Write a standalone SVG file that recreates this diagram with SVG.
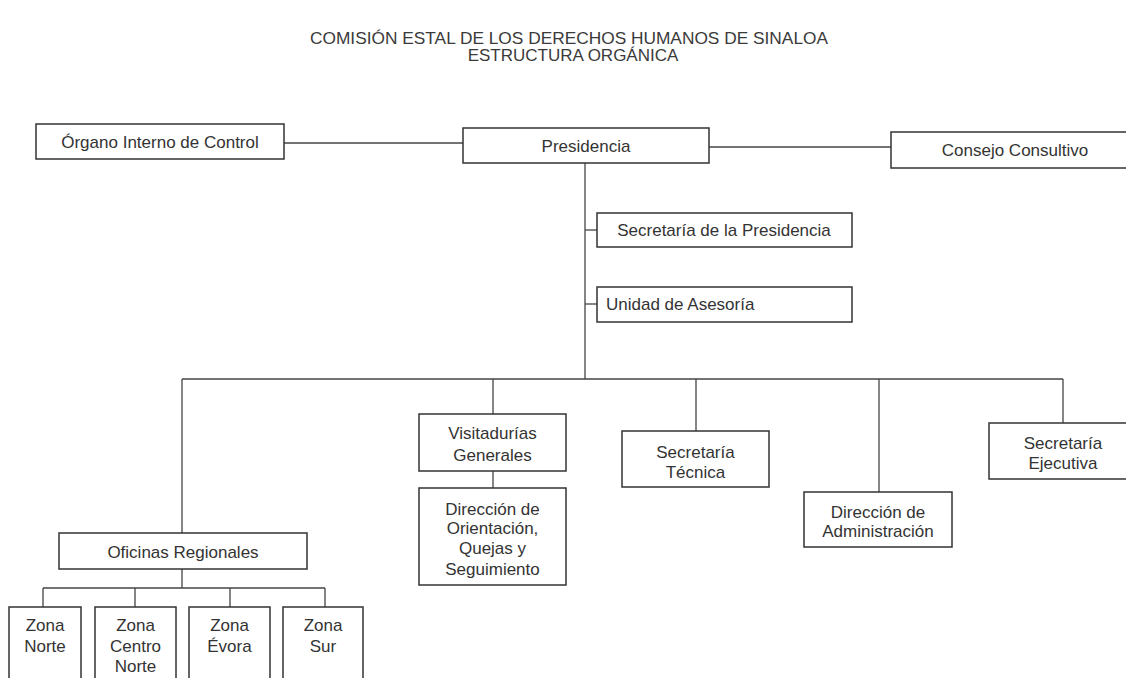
<svg xmlns="http://www.w3.org/2000/svg" width="1126" height="678" viewBox="0 0 1126 678">
<style>
  .bg { fill: #ffffff; }
  .box { fill: #ffffff; stroke: #333333; stroke-width: 1.5; }
  .lbl { font-family: "Liberation Sans", Arial, sans-serif; font-size: 17px; fill: #333333; text-anchor: middle; }
  .lft { text-anchor: start; }
  .title { font-family: "Liberation Sans", Arial, sans-serif; font-size: 17px; fill: #3a3a3a; text-anchor: middle; }
  .con { fill: none; stroke: #444444; stroke-width: 1.3; }
</style>
<rect class="bg" x="0" y="0" width="1126" height="678"/>

<g id="title">
  <text class="title" x="569" y="44" textLength="518" lengthAdjust="spacingAndGlyphs">COMISIÓN ESTAL DE LOS DERECHOS HUMANOS DE SINALOA</text>
  <text class="title" x="573" y="61">ESTRUCTURA ORGÁNICA</text>
</g>

<g id="connectors">
  <path class="con" d="M284,143 H463"/>
  <path class="con" d="M709,147 H891"/>
  <path class="con" d="M585,163 V379"/>
  <path class="con" d="M585,230 H597"/>
  <path class="con" d="M585,304 H597"/>
  <path class="con" d="M182,379 H1063"/>
  <path class="con" d="M182,379 V533"/>
  <path class="con" d="M493,379 V414"/>
  <path class="con" d="M696,379 V431"/>
  <path class="con" d="M879,379 V492"/>
  <path class="con" d="M1063,379 V423"/>
  <path class="con" d="M493,471 V488"/>
  <path class="con" d="M182,569 V588"/>
  <path class="con" d="M43,588 H325"/>
  <path class="con" d="M43,588 V607 M135,588 V607 M230,588 V607 M325,588 V607"/>
</g>

<g id="organo">
  <rect class="box" x="36" y="124" width="248" height="35"/>
  <text class="lbl" x="160" y="148">Órgano Interno de Control</text>
</g>
<g id="presidencia">
  <rect class="box" x="463" y="128" width="246" height="35"/>
  <text class="lbl" x="586" y="152">Presidencia</text>
</g>
<g id="consejo">
  <rect class="box" x="891" y="132" width="250" height="36"/>
  <text class="lbl" x="1015" y="156">Consejo Consultivo</text>
</g>
<g id="secretaria-presidencia">
  <rect class="box" x="597" y="213" width="255" height="34"/>
  <text class="lbl" x="724" y="236">Secretaría de la Presidencia</text>
</g>
<g id="unidad-asesoria">
  <rect class="box" x="597" y="287" width="255" height="35"/>
  <text class="lbl lft" x="606" y="310">Unidad de Asesoría</text>
</g>
<g id="visitadurias">
  <rect class="box" x="419" y="414" width="147" height="57"/>
  <text class="lbl" x="492.5" y="439">Visitadurías</text>
  <text class="lbl" x="492.5" y="461">Generales</text>
</g>
<g id="direccion-orientacion">
  <rect class="box" x="419" y="488" width="147" height="97"/>
  <text class="lbl" x="492.5" y="515">Dirección de</text>
  <text class="lbl" x="492.5" y="534">Orientación,</text>
  <text class="lbl" x="492.5" y="554">Quejas y</text>
  <text class="lbl" x="492.5" y="575">Seguimiento</text>
</g>
<g id="secretaria-tecnica">
  <rect class="box" x="622" y="431" width="147" height="56"/>
  <text class="lbl" x="695.5" y="458">Secretaría</text>
  <text class="lbl" x="695.5" y="478">Técnica</text>
</g>
<g id="direccion-administracion">
  <rect class="box" x="804" y="492" width="148" height="55"/>
  <text class="lbl" x="878" y="518">Dirección de</text>
  <text class="lbl" x="878" y="537">Administración</text>
</g>
<g id="secretaria-ejecutiva">
  <rect class="box" x="989" y="423" width="150" height="56"/>
  <text class="lbl" x="1063" y="449">Secretaría</text>
  <text class="lbl" x="1063" y="469">Ejecutiva</text>
</g>
<g id="oficinas-regionales">
  <rect class="box" x="59" y="533" width="248" height="36"/>
  <text class="lbl" x="183" y="558">Oficinas Regionales</text>
</g>
<g id="zona-norte">
  <rect class="box" x="9" y="607" width="72" height="90"/>
  <text class="lbl" x="45" y="631">Zona</text>
  <text class="lbl" x="45" y="652">Norte</text>
</g>
<g id="zona-centro-norte">
  <rect class="box" x="95" y="607" width="81" height="90"/>
  <text class="lbl" x="135.5" y="631">Zona</text>
  <text class="lbl" x="135.5" y="652">Centro</text>
  <text class="lbl" x="135.5" y="672">Norte</text>
</g>
<g id="zona-evora">
  <rect class="box" x="189" y="607" width="81" height="90"/>
  <text class="lbl" x="229.5" y="631">Zona</text>
  <text class="lbl" x="229.5" y="652">Évora</text>
</g>
<g id="zona-sur">
  <rect class="box" x="283" y="607" width="80" height="90"/>
  <text class="lbl" x="323" y="631">Zona</text>
  <text class="lbl" x="323" y="652">Sur</text>
</g>
</svg>
